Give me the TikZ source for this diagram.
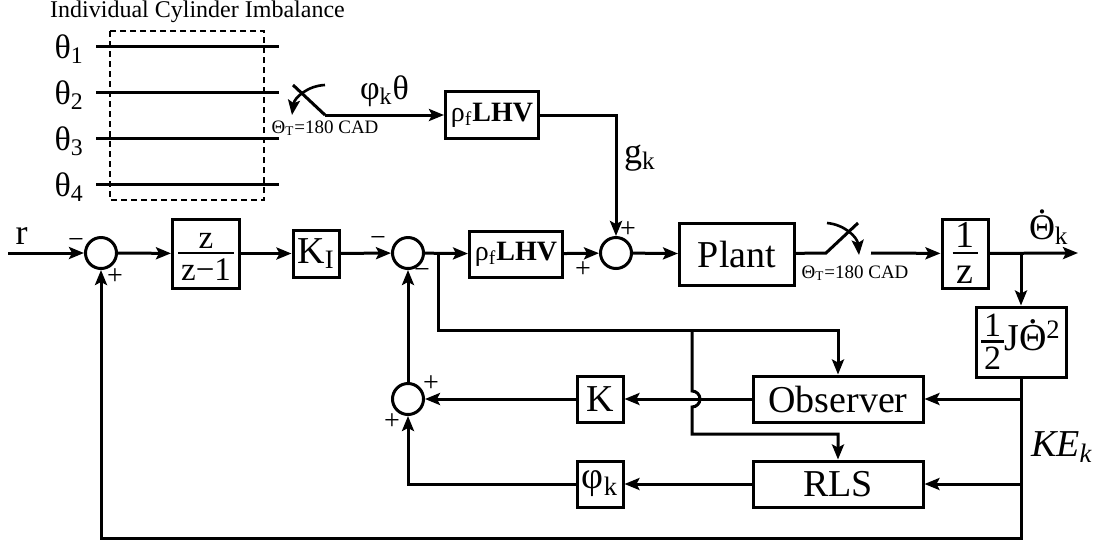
\documentclass[tikz,border=0pt]{standalone}
\usepackage{fontspec}
\setmainfont{Liberation Serif}
\usetikzlibrary{arrows.meta}

\newcommand{\lowsub}[1]{\textsubscript{#1}}
\newcommand{\dotth}{\leavevmode\hbox{\ooalign{Θ\cr\hidewidth\raisebox{0.72em}{.}\hidewidth\cr}}}
\newcommand{\blkfrac}[2]{\ensuremath{\vcenter{\offinterlineskip\halign{\hfil\kern1.5pt##\kern1.5pt\hfil\cr
  \rule[-0.12em]{0pt}{0.82em}#1\cr\noalign{\hrule height 1.2pt}\rule[-0.06em]{0pt}{0.84em}#2\cr}}}}

\begin{document}
\begin{tikzpicture}[x=0.5pt, y=-0.5pt, line width=1.5pt,
  >={Stealth[length=7.5pt,width=6pt,inset=1.5pt]},
  block/.style = {draw, rectangle, inner sep=0pt, font=\fontsize{19}{22}\selectfont},
  adder/.style = {draw, circle, minimum size=15.5pt, inner sep=0pt},
  sgn/.style = {font=\fontsize{14}{15}\selectfont, inner sep=0pt},
  lbl/.style = {font=\fontsize{18}{20}\selectfont},
  swlbl/.style = {font=\fontsize{9.5}{11}\selectfont, inner sep=0pt}]
            \useasboundingbox (0,0) rectangle (1099,543);

            % cylinder imbalance
            \node[font=\fontsize{12}{14}\selectfont] (title) at (197.5,12) {Individual Cylinder Imbalance};
            \draw[line width=1.1pt, dash pattern=on 3pt off 2pt] (110,31) rectangle (264,200);
            \node[font=\fontsize{17}{19}\selectfont, anchor=base east] (th1) at (92,58) {θ\lowsub{1}};
            \node[font=\fontsize{17}{19}\selectfont, anchor=base east] (th2) at (92,104) {θ\lowsub{2}};
            \node[font=\fontsize{17}{19}\selectfont, anchor=base east] (th3) at (92,150) {θ\lowsub{3}};
            \node[font=\fontsize{17}{19}\selectfont, anchor=base east] (th4) at (92,196) {θ\lowsub{4}};
            \draw (96,46) -- (279,46);
            \draw (96,92) -- (279,92);
            \draw (96,138) -- (279,138);
            \draw (96,184) -- (279,184);

            % upper branch
            \node[block, minimum width=46.5pt, minimum height=23.5pt, font=\fontsize{14}{16}\selectfont] (lhv1) at (492,115) {ρ\lowsub{f}\textbf{LHV}};
            \coordinate (sw1a) at (293,85);
            \coordinate (sw1b) at (325,115);
            \draw (sw1a) -- (sw1b);
            \draw[->] (sw1b) -- node[lbl, above, font=\fontsize{17}{19}\selectfont] (phth) {φ\lowsub{k}θ} (lhv1);
            \draw[->, line width=1.3pt] (325,85) to[bend right=40] (292,115);
            \node[swlbl] (sw1lbl) at (325,128) {Θ\lowsub{T}=180 CAD};

            % forward path
            \coordinate (in) at (8,253);
            \node[adder] (sum1) at (101,253) {};
            \node[block, minimum width=33.5pt, minimum height=34.5pt, font=\fontsize{16.5}{18}\selectfont] (frac) at (206,253.5) {\blkfrac{z}{z−1}};
            \node[block, minimum width=23pt, minimum height=23.5pt] (ki) at (316,253.5) {K\lowsub{I}};
            \node[adder] (sum2) at (408,253) {};
            \node[block, minimum width=46.5pt, minimum height=23pt, font=\fontsize{14}{16}\selectfont] (lhv2) at (516,254) {ρ\lowsub{f}\textbf{LHV}};
            \node[adder] (sum3) at (616,253) {};
            \node[block, minimum width=57.5pt, minimum height=31pt] (plant) at (737,254) {Plant};
            \node[block, minimum width=23pt, minimum height=34.5pt] (zblk) at (965,253.5) {\blkfrac{1}{z}};
            \coordinate (out) at (1078,253);
            \node[block, minimum width=45pt, minimum height=35pt] (ke) at (1021,342) {{\fontsize{17}{19}\selectfont\blkfrac{1}{2}}J\dotth\textsuperscript{2}};

            \draw[->] (in) -- node[lbl, pos=0.18, above] (rlbl) {r} (sum1);
            \path[->] (sum1) edge (frac) (frac) edge (ki) (ki) edge (sum2)
                      (sum2) edge (lhv2) (lhv2) edge (sum3) (sum3) edge (plant);
            \draw[->] (lhv1.east) -| node[lbl, pos=0.68, right] (gk) {g\lowsub{k}} (sum3.north);

            % sampler
            \coordinate (sw2a) at (826,253);
            \coordinate (sw2b) at (858,223);
            \coordinate (sw2c) at (871,253);
            \draw (plant) -- (sw2a) -- (sw2b);
            \draw[->, line width=1.3pt] (827,223) to[bend left=40] (859,255);
            \node[swlbl] (sw2lbl) at (855,273) {Θ\lowsub{T}=180 CAD};
            \draw[->] (sw2c) -- (zblk);
            \draw[->] (zblk) -- node[lbl, pos=0.67, above] (thk) {\dotth\lowsub{k}} (out);
            \draw[->] (ke.north |- out) -- (ke.north);

            % observer and RLS
            \node[block, minimum width=85pt, minimum height=23pt] (obs) at (838,399) {Observer};
            \node[block, minimum width=85pt, minimum height=23pt] (rls) at (838,484) {RLS};
            \node[block, minimum width=23pt, minimum height=23pt] (kblk) at (600,399) {K};
            \node[block, minimum width=23pt, minimum height=23pt] (phik) at (600,484) {φ\lowsub{k}};
            \node[adder] (sum4) at (408,399) {};
            \node[lbl, anchor=west, font=\fontsize{19}{21}\selectfont] (kelbl) at (1023,447) {\textit{KE}\lowsub{\textit{k}}};

            \coordinate (bot) at (101,538);
            \draw[->] (ke.south) |- (bot) -- (sum1.south);
            \draw[->] (ke.south |- obs) -- (obs);
            \draw[->] (ke.south |- rls) -- (rls);
            \path[->] (obs) edge (kblk) (kblk) edge (sum4) (rls) edge (phik);
            \draw[->] (phik) -| (sum4);
            \draw[->] (sum4) -- (sum2);

            \coordinate (br1) at (438,253);
            \coordinate (br2) at (692,330);
            \coordinate (hopa) at (692,391);
            \coordinate (hopb) at (692,434);
            \draw[->] (br1) |- (br2) -| (obs.north);
            \draw[->] (br2) -- (hopa) arc[start angle=90, end angle=-90, radius=4pt] -- (hopb) -| (rls.north);

            % signs
            \node[sgn] (s1a) at (76,243) {−};
            \node[sgn] (s1b) at (115,277) {+};
            \node[sgn] (s2a) at (378,241) {−};
            \node[sgn] (s2b) at (422,273) {−};
            \node[sgn] (s3a) at (628,230) {+};
            \node[sgn] (s3b) at (583,270) {+};
            \node[sgn] (s4a) at (431,384) {+};
            \node[sgn] (s4b) at (392,422) {+};
        \end{tikzpicture}
\end{document}
